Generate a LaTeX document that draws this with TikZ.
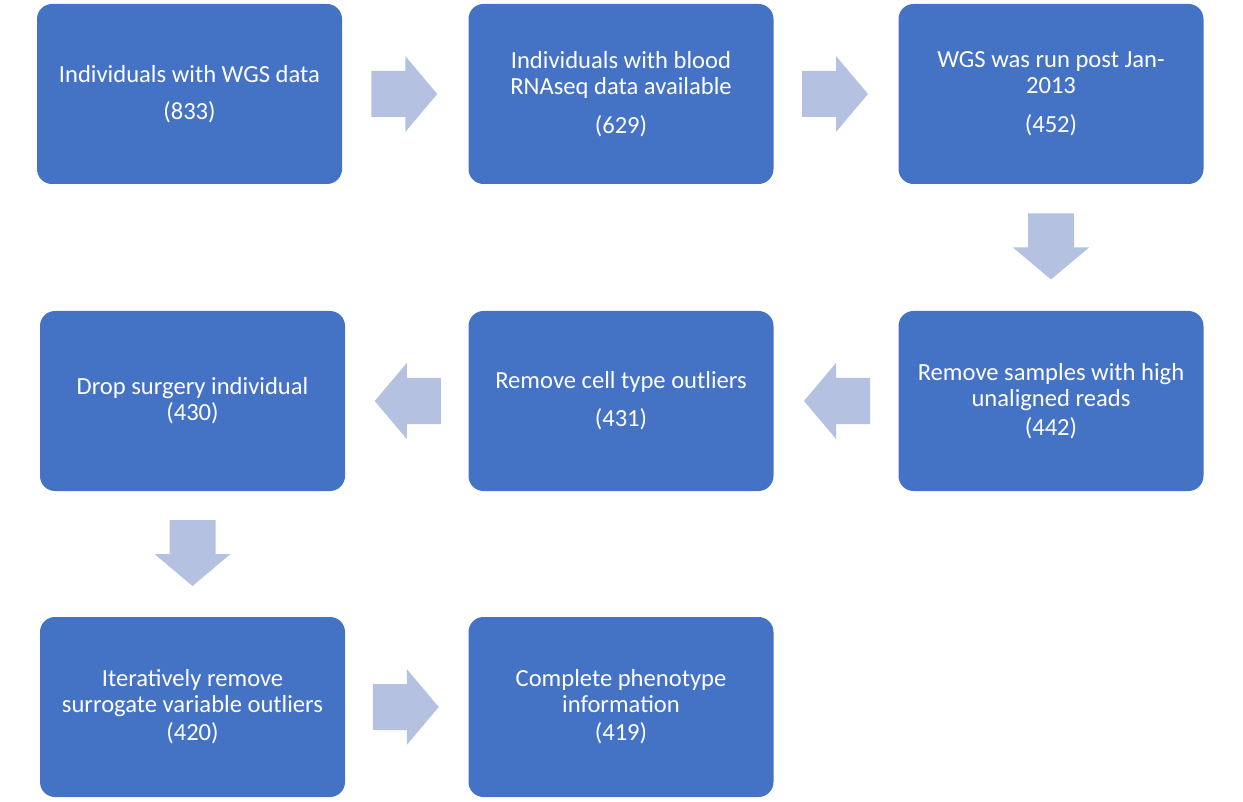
\documentclass[tikz,border=0pt]{standalone}
\usepackage{fontspec}
\setmainfont{Carlito}
\usetikzlibrary{calc}

\begin{document}
\begin{tikzpicture}
[x=1pt,y=-1pt,
  boxDecorate/.style={shape=rectangle,rounded corners=15pt,fill={rgb,255:red,68;green,114;blue,196},
    text=white,minimum width=305pt,minimum height=180pt,align=center,inner sep=0pt,
    font=\fontsize{24.6}{26}\selectfont},%
  arrowDecorate/.style={fill={rgb,255:red,180;green,193;blue,225}}]
\useasboundingbox (0,0) rectangle (1243,802);
%% boxes
\node (wgs) at (189.5,94) [boxDecorate] {Individuals with WGS data\\[11pt](833)};
\node (rna) at (621,94) [boxDecorate] {Individuals with blood\\RNAseq data available\\[13pt](629)};
\node (jan) at (1051,94) [boxDecorate] {WGS was run post Jan-\\2013\\[13pt](452)};
\node (unal) at (1051,401) [boxDecorate] {Remove samples with high\\unaligned reads\\[3pt](442)};
\node (cell) at (621,401) [boxDecorate] {Remove cell type outliers\\[12pt](431)};
\node (surg) at (192.5,401) [boxDecorate] {Drop surgery individual\\(430)};
\node (surr) at (192.5,707) [boxDecorate] {Iteratively remove\\surrogate variable outliers\\[2pt](420)};
\node (phen) at (621,707) [boxDecorate] {Complete phenotype\\information\\[2pt](419)};
%% block arrows
\foreach \startnode/\endnode/\angle in {
  wgs/rna/0, rna/jan/0, jan/unal/-90,
  unal/cell/180, cell/surg/180, surg/surr/-90, surr/phen/0}
{
  \fill[arrowDecorate,shift={($(\startnode)!0.5!(\endnode)$)},rotate=\angle]
    (-34,-23) -- (0,-23) -- (0,-38) -- (32,0) -- (0,38) -- (0,23) -- (-34,23) -- cycle;
}
\end{tikzpicture}
\end{document}
